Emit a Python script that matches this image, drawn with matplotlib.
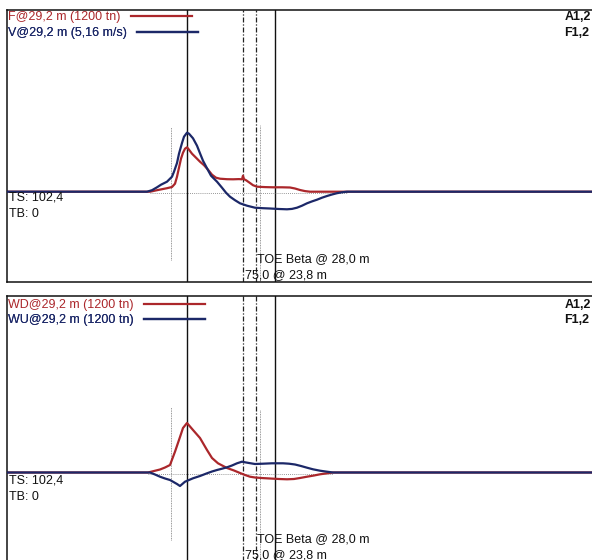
import matplotlib
matplotlib.use("Agg")
import matplotlib.pyplot as plt

plt.rcParams['font.family'] = ['Liberation Sans', 'DejaVu Sans']

RED = '#ab272b'
BLUE = '#1c2868'

# --- top record: force and velocity (sample index, relative amplitude) ---
f_t = [0, 143, 150, 156, 160, 165, 168, 170, 172, 174, 176, 178, 180, 182,
       185, 189, 193, 197, 201, 205, 209, 213, 220, 226, 232, 235, 236, 237,
       239, 243, 246, 250, 258, 266, 275, 283, 288, 293, 298, 303, 600]
f_v = [0, 0, 1.5, 2.7, 3.5, 4.7, 8, 15, 24, 33, 39, 43, 44.4, 42,
       38, 34, 30, 26.5, 22, 17, 14, 13, 12.5, 12.4, 12.6, 12.4, 16, 12.5,
       11.5, 8.7, 6.5, 5, 4.6, 4.4, 4.4, 4.2, 3.2, 1.7, 0.6, 0, 0]

v_t = [0, 140, 145, 150, 154, 160, 165, 167, 170, 172, 175, 177, 180, 182,
       186, 190, 193, 196, 200, 204, 210, 215, 219, 223, 228, 233, 240, 248,
       256, 263, 272, 280, 285, 290, 295, 300, 305, 310, 315, 320, 325, 330,
       335, 340, 600]
v_v = [0, 0, 1.5, 4.4, 7, 10, 15, 20, 28.7, 38, 48.7, 55, 59, 58,
       53.4, 46, 38.4, 31, 23.4, 16, 10, 4, -1, -5, -8.5, -11.6, -14, -16,
       -16.5, -16.8, -17.3, -17.6, -17.2, -16, -14, -11.6, -9.7, -8, -6, -4.3,
       -2.8, -1.5, -0.6, 0, 0]

# --- bottom record: wave down / wave up ---
wd_t = [0, 141, 147, 153, 158, 163, 168, 173, 176, 180, 186, 193, 200, 205,
        211, 220, 227, 233, 238, 243, 248, 256, 263, 272, 280, 287, 293, 300,
        307, 313, 320, 326, 600]
wd_v = [0, 0, 1.5, 3, 5, 7.5, 20.8, 35.5, 44.5, 49.5, 42.5, 34.5, 22.5, 14.5,
        9.2, 4.5, 2, -0.5, -2.5, -4.2, -5, -5.6, -6, -6.5, -6.8, -6.5, -5.5,
        -4.2, -3, -1.8, -0.8, 0, 0]

wu_t = [0, 143, 148, 153, 158, 163, 170, 173, 178, 186, 193, 200, 205, 210,
        215, 220, 225, 230, 235, 238, 242, 248, 256, 265, 276, 282, 288, 294,
        300, 306, 313, 320, 326, 600]
wu_v = [0, 0, -2, -4.2, -6, -7.5, -11.5, -13.5, -9.2, -5.8, -3.5, -0.8, 1, 2.5,
        3.8, 5.2, 7, 9.2, 10.8, 10.2, 9.5, 8.5, 8.8, 9.2, 9.2, 8.8, 8, 6.5,
        4.8, 3.2, 1.8, 0.8, 0, 0]

# marker positions (sample index)
t_start = 164      # thin dotted
t_impact = 180     # solid
t_mark1 = 236      # dash-dot
t_mark2 = 249      # dash-dot
t_toe = 253        # thin dotted
t_end = 268        # solid

labels_top = ['F@29,2 m (1200 tn)', 'V@29,2 m (5,16 m/s)']
labels_bot = ['WD@29,2 m (1200 tn)', 'WU@29,2 m (1200 tn)']
side_text = ['A1,2', 'F1,2']
info_text = ['TS: 102,4', 'TB: 0']
toe_text = ['TOE Beta @ 28,0 m', '75,0 @ 23,8 m']

FS = 9

fig = plt.figure(figsize=(5.92, 5.6), dpi=100)
ax_top = fig.add_axes([7 / 592, 278 / 560, 600 / 592, 272 / 560])
ax_bot = fig.add_axes([7 / 592, -12 / 560, 600 / 592, 276 / 560])


def add_key(ax, line, label, y):
    leg = ax.legend([line], [label], loc='center left', bbox_to_anchor=(0.002, y),
                    frameon=False, markerfirst=False, handlelength=4.9,
                    handletextpad=0.8, borderpad=0, borderaxespad=0,
                    labelcolor=line.get_color(), fontsize=FS)
    ax.add_artist(leg)


def setup_panel(ax, ylim, zero_span, part_lo, series, labels, key_y, txt_y, toe_y):
    ax.set_xlim(0, 600)
    ax.set_ylim(*ylim)
    ax.set_xticks([])
    ax.set_yticks([])
    for s in ax.spines.values():
        s.set_linewidth(1.1)
        s.set_color('#111111')

    # marker lines
    ax.axvline(t_impact, color='#111111', lw=1.0)
    ax.axvline(t_end, color='#111111', lw=1.0)
    for t in (t_mark1, t_mark2):
        ax.axvline(t, color='#222222', lw=0.9, ls=(0, (4, 1.5, 1, 1.5)))
    ax.vlines(t_start, part_lo[0], part_lo[1], color='#777777', lw=0.6, ls=(0, (1, 1)))
    ax.vlines(t_toe, ylim[0], part_lo[2], color='#777777', lw=0.6, ls=(0, (1, 1)))
    ax.hlines(zero_span[2], zero_span[0], zero_span[1], color='#777777', lw=0.6, ls=(0, (1, 1.5)))

    lines = []
    for (tt, vv, col) in series:
        ln, = ax.plot(tt, vv, color=col, lw=1.6, solid_joinstyle='round')
        lines.append(ln)
    lines[1].set_zorder(3)
    lines[0].set_zorder(2.5)

    for ln, lab, y in zip(lines, labels, key_y):
        add_key(ax, ln, lab, y)

    for s, y in zip(side_text, key_y):
        ax.text(0.929, y, s, transform=ax.transAxes, ha='left', va='center',
                fontsize=FS, fontweight='bold', color='#111111')
    for s, y in zip(info_text, txt_y):
        ax.text(0.004, y, s, transform=ax.transAxes, ha='left', va='center',
                fontsize=FS, color='#111111')
    ax.text(0.417, toe_y[0], toe_text[0], transform=ax.transAxes, ha='left',
            va='center', fontsize=FS, color='#111111')
    ax.text(0.397, toe_y[1], toe_text[1], transform=ax.transAxes, ha='left',
            va='center', fontsize=FS, color='#111111')


setup_panel(ax_top, (-90.3, 181.7), (143, 340, -1.3), (-68.3, 64.7, 66.7),
            [(f_t, f_v, RED), (v_t, v_v, BLUE)], labels_top,
            (0.974, 0.915), (0.309, 0.25), (0.085, 0.026))

setup_panel(ax_bot, (-99.5, 176.5), (141, 326, -1.8), (-67.5, 65.8, 62.5),
            [(wd_t, wd_v, RED), (wu_t, wu_v, BLUE)], labels_bot,
            (0.967, 0.913), (0.33, 0.272), (0.12, 0.062))

fig.savefig('out.png', dpi=100)
